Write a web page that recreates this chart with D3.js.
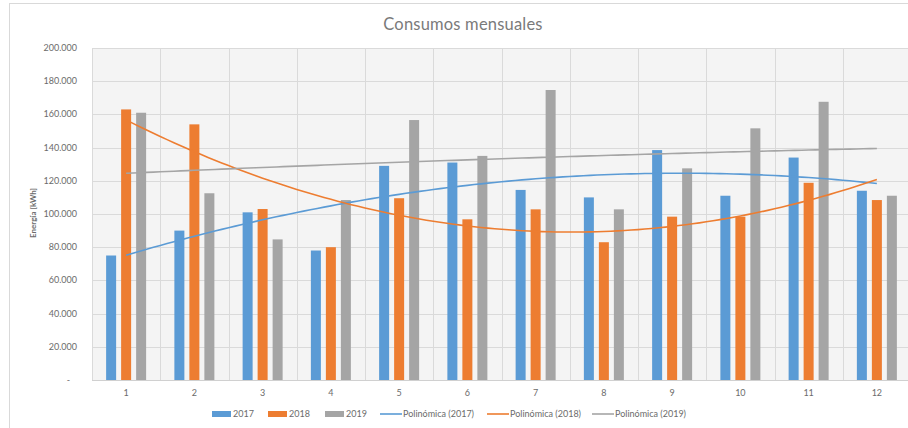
<!DOCTYPE html>
<html>
<head>
<meta charset="utf-8">
<script src="https://cdn.jsdelivr.net/npm/d3@7"></script>
<style>
  body { margin: 0; background: #fff; }
  text { font-family: Lato, "Open Sans", sans-serif; fill: #6b6b6b; }
</style>
</head>
<body>
<div id="chart"></div>
<script>
/** Data */
const months = ["1", "2", "3", "4", "5", "6", "7", "8", "9", "10", "11", "12"];
const years = ["2017", "2018", "2019"];
const values2017 = [75000, 90000, 101000, 78000, 129000, 131000, 114500, 110000, 138500, 111000, 134000, 114000];
const values2018 = [163000, 154000, 103000, 80000, 109500, 96800, 102800, 83000, 98400, 98400, 118800, 108400];
const values2019 = [161000, 112500, 84700, 108400, 156600, 135000, 174700, 102800, 127500, 151600, 167600, 111000];
const yTicks = [0, 20000, 40000, 60000, 80000, 100000, 120000, 140000, 160000, 180000, 200000];
const colors = ["#5b9bd5", "#ed7d31", "#a5a5a5"];

const series = [values2017, values2018, values2019];

/** Graph configs */
const width = 908;
const height = 428;
const plot = { left: 92, top: 48, right: 911, bottom: 380 };

const svg = d3.select("#chart").append("svg")
  .attr("width", width)
  .attr("height", height);

/** Chart frame */
svg.append("rect")
  .attr("x", 9.5).attr("y", 3.5)
  .attr("width", 920).attr("height", 440)
  .attr("fill", "#fff")
  .attr("stroke", "#d9d9d9");

/** Scales */
const xScale = d3.scaleBand().domain(months).range([plot.left, plot.right]);
const yScale = d3.scaleLinear().domain([0, 200000]).range([plot.bottom, plot.top]);

/** Plot area background */
svg.append("rect")
  .attr("x", plot.left).attr("y", plot.top)
  .attr("width", plot.right - plot.left).attr("height", plot.bottom - plot.top)
  .attr("fill", "#f4f4f4");

/** Gridlines */
svg.append("g").selectAll("line").data(yTicks).join("line")
  .attr("x1", plot.left).attr("x2", plot.right)
  .attr("y1", (d) => Math.round(yScale(d)) + 0.5)
  .attr("y2", (d) => Math.round(yScale(d)) + 0.5)
  .attr("stroke", "#dadada");

svg.append("g").selectAll("line").data(months).join("line")
  .attr("x1", (d) => Math.round(xScale(d)) + 0.5)
  .attr("x2", (d) => Math.round(xScale(d)) + 0.5)
  .attr("y1", plot.top).attr("y2", plot.bottom)
  .attr("stroke", "#dadada");

/** Bars */
const barWidth = 10;
const barStep = 15;
series.forEach((values, s) => {
  svg.append("g").selectAll("rect").data(values).join("rect")
    .attr("x", (d, i) => xScale(months[i]) + xScale.bandwidth() / 2 + (s - 1) * barStep - barWidth / 2)
    .attr("y", (d) => yScale(d))
    .attr("width", barWidth)
    .attr("height", (d) => yScale(0) - yScale(d))
    .attr("fill", colors[s]);
});

/** Polynomial (order 2) trendline by least squares */
const polyFit = (values) => {
  const xs = values.map((_, i) => i + 1);
  const S = (k) => d3.sum(xs, (x) => x ** k);
  const T = (k) => d3.sum(xs, (x, i) => x ** k * values[i]);
  const A = [
    [S(0), S(1), S(2), T(0)],
    [S(1), S(2), S(3), T(1)],
    [S(2), S(3), S(4), T(2)],
  ];
  // Gauss elimination
  for (let c = 0; c < 3; c++) {
    for (let r = c + 1; r < 3; r++) {
      const f = A[r][c] / A[c][c];
      for (let k = c; k < 4; k++) A[r][k] -= f * A[c][k];
    }
  }
  const coef = [0, 0, 0];
  for (let r = 2; r >= 0; r--) {
    let v = A[r][3];
    for (let k = r + 1; k < 3; k++) v -= A[r][k] * coef[k];
    coef[r] = v / A[r][r];
  }
  return (x) => coef[0] + coef[1] * x + coef[2] * x * x;
};

const centerX = (x) => {
  const c1 = xScale(months[0]) + xScale.bandwidth() / 2;
  return c1 + (x - 1) * xScale.step();
};

series.forEach((values, s) => {
  const f = polyFit(values);
  const pts = d3.range(1, 12.001, 0.1).map((x) => [centerX(x), yScale(f(x))]);
  svg.append("path")
    .attr("d", d3.line()(pts))
    .attr("fill", "none")
    .attr("stroke", colors[s])
    .attr("stroke-width", 1.6);
});

/** Axes labels */
const fmt = (d) => (d === 0 ? "-" : d3.format(",")(d).replace(/,/g, "."));
svg.append("g").selectAll("text").data(yTicks).join("text")
  .attr("x", (d) => (d === 0 ? 70 : 77))
  .attr("y", (d) => yScale(d) + 3)
  .attr("text-anchor", "end")
  .attr("font-size", 9)
  .text(fmt);

svg.append("line")
  .attr("x1", plot.left).attr("x2", plot.right)
  .attr("y1", plot.bottom + 0.5).attr("y2", plot.bottom + 0.5)
  .attr("stroke", "#d0d0d0");

svg.append("g").selectAll("text").data(months).join("text")
  .attr("x", (d) => xScale(d) + xScale.bandwidth() / 2)
  .attr("y", 396)
  .attr("text-anchor", "middle")
  .attr("font-size", 9)
  .text((d) => d);

svg.append("text")
  .attr("transform", "translate(36,213) rotate(-90)")
  .attr("text-anchor", "middle")
  .attr("font-size", 8)
  .attr("font-weight", "bold")
  .text("Energía [kWh]");

/** Title */
svg.append("text")
  .attr("x", 463).attr("y", 30)
  .attr("text-anchor", "middle")
  .attr("font-size", 16.5)
  .style("fill", "#7a7a7a")
  .style("letter-spacing", "0.2px")
  .text("Consumos mensuales");

/** Legend */
const legendItems = [
  { label: "2017", color: colors[0], type: "bar", x: 212 },
  { label: "2018", color: colors[1], type: "bar", x: 268 },
  { label: "2019", color: colors[2], type: "bar", x: 325 },
  { label: "Polinómica (2017)", color: colors[0], type: "line", x: 380 },
  { label: "Polinómica (2018)", color: colors[1], type: "line", x: 487 },
  { label: "Polinómica (2019)", color: colors[2], type: "line", x: 592 },
];
const legend = svg.append("g").selectAll("g").data(legendItems).join("g")
  .attr("transform", (d) => `translate(${d.x},414)`);
legend.filter((d) => d.type === "bar").append("rect")
  .attr("x", 0).attr("y", -3).attr("width", 19).attr("height", 6)
  .attr("fill", (d) => d.color);
legend.filter((d) => d.type === "line").append("line")
  .attr("x1", 0).attr("x2", 22).attr("y1", 0).attr("y2", 0)
  .attr("stroke", (d) => d.color).attr("stroke-width", 1.6);
legend.append("text")
  .attr("x", (d) => (d.type === "bar" ? 21 : 23))
  .attr("y", 3)
  .attr("font-size", 9)
  .text((d) => d.label);
</script>
</body>
</html>
